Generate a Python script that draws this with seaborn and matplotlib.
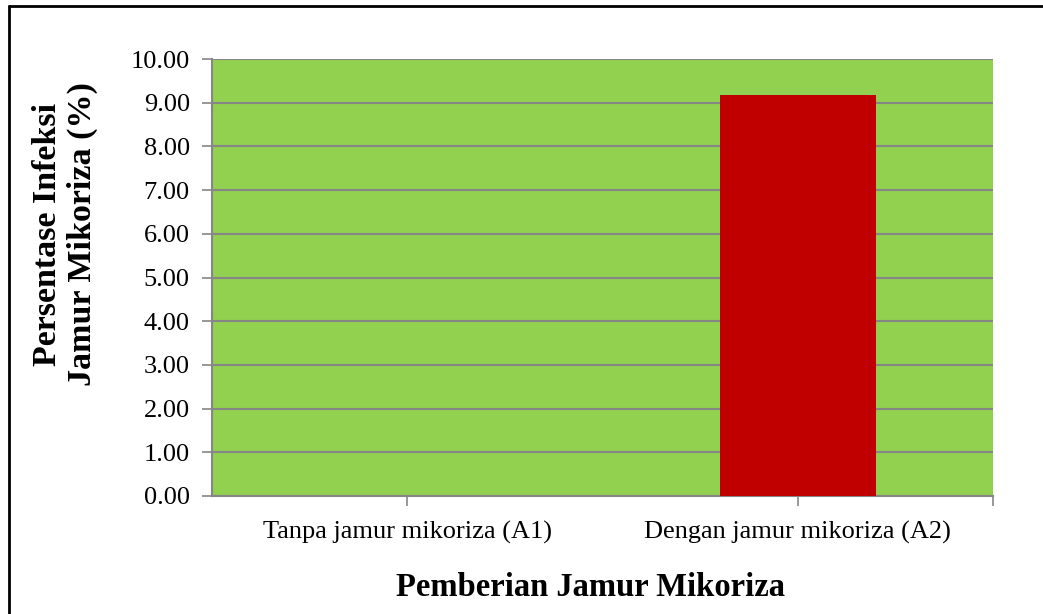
import matplotlib
matplotlib.use("Agg")
import matplotlib.pyplot as plt
from matplotlib.lines import Line2D
import seaborn as sns
import pandas as pd

categories = ["Tanpa jamur mikoriza (A1)", "Dengan jamur mikoriza (A2)"]
values = [0.0, 9.18]
y_ticks = [0, 1, 2, 3, 4, 5, 6, 7, 8, 9, 10]

sns.set_theme(style="white")
plt.rcParams['font.family'] = ['Liberation Serif', 'DejaVu Serif']
plt.rcParams['text.color'] = 'black'

df = pd.DataFrame({"cat": categories, "val": values})

fig = plt.figure(figsize=(10.43, 6.14), dpi=100)
W, H = 1043, 614
ax = fig.add_axes([212 / W, 1 - 496 / H, (993 - 212) / W, (496 - 59) / H])
ax.set_facecolor('#92D050')

sns.barplot(data=df, x="cat", y="val", color='#C00000', width=0.4,
            saturation=1, linewidth=0, ax=ax, zorder=3)

ax.set_xlim(-0.5, 1.5)
ax.set_ylim(0, 10)
ax.set_yticks(y_ticks)
ax.set_yticklabels([f"{v:.2f}" for v in y_ticks])
ax.grid(axis='y', color='#868686', linewidth=1.5, zorder=1)
ax.set_axisbelow(True)
for s in ['top', 'right']:
    ax.spines[s].set_visible(False)
for s in ['left', 'bottom']:
    ax.spines[s].set_color('#868686')
    ax.spines[s].set_linewidth(1.5)
ax.set_xticks([1.5], minor=True)
ax.tick_params(axis='both', which='both', direction='out', length=7,
               color='#868686', width=1.2, labelsize=19, labelcolor='black',
               left=True, bottom=True)
ax.tick_params(axis='x', which='major', pad=11)
ax.tick_params(axis='y', pad=9)
ax.set_xlabel("")
ax.set_ylabel("")

fig.text(65 / W, 1 - 234 / H, "Persentase Infeksi\nJamur Mikoriza (%)",
         rotation=90, ha='center', va='center', fontsize=24.5,
         fontweight='bold', linespacing=1.12, color='black')
fig.text(591 / W, 1 - 588 / H, "Pemberian Jamur Mikoriza", ha='center',
         va='center', fontsize=23.5, fontweight='bold', color='black')

fig.add_artist(Line2D([9 / W, 9 / W], [0, 1 - 6 / H], color='black',
                      linewidth=2, transform=fig.transFigure))
fig.add_artist(Line2D([9 / W, 1], [1 - 6 / H, 1 - 6 / H], color='black',
                      linewidth=2, transform=fig.transFigure))

fig.savefig("out.png", dpi=100)
